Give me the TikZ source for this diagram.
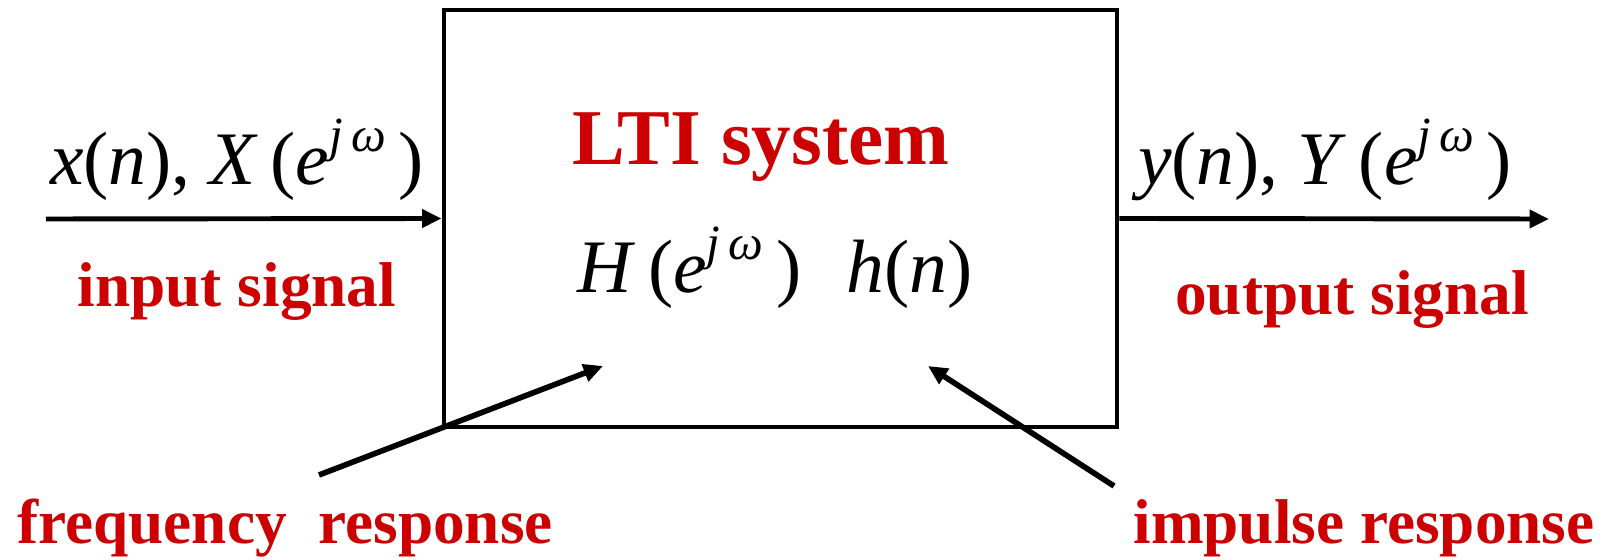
\documentclass[tikz,border=0pt]{standalone}
\usepackage{fontspec}
\setmainfont{Liberation Serif}
\usetikzlibrary{positioning, arrows.meta, calc}

\definecolor{ltired}{HTML}{CC0000}
% superscript for the exponent e^{j omega}
\newcommand{\expo}[1]{\raisebox{0.95ex}{\fontsize{28}{28}\selectfont\itshape #1}}

\begin{document}
\begin{tikzpicture}[
    sysbox/.style={draw, line width=2.8pt, minimum width=13.46cm, minimum height=8.34cm, inner sep=0pt},
    arrow/.style={-{Triangle[length=11pt, width=10pt]}, line width=2.8pt},
    slant/.style={-{Triangle[length=11pt, width=10pt]}, line width=3.2pt},
    redlbl/.style={text=ltired, font=\fontsize{36}{40}\selectfont\bfseries, inner sep=0pt},
    mathlbl/.style={font=\fontsize{43}{48}\selectfont, inner sep=0pt}
]
    \useasboundingbox (0,0) rectangle (32.06,11.2);

    % ================= SYSTEM BLOCK =================
    \node[sysbox] (Sys) at (15.61, 6.83) {};
    \node[redlbl, font=\fontsize{45}{50}\selectfont\bfseries] (LTI) at (15.22, 8.25) {LTI system};
    \node[mathlbl] (Resp) at (15.5, 5.85)
        {\textit{H}\,(\textit{e}\expo{j\,ω}\,)\hspace{0.6em}\textit{h}(\textit{n})};

    % ================= INPUT / OUTPUT =================
    \coordinate (In) at (0.92, 6.82);
    \coordinate (Out) at (30.98, 6.82);

    \node[mathlbl] (XLbl) at (4.74, 8.0)
        {\textit{x}(\textit{n}),\ \textit{X}\,(\textit{e}\expo{j\,ω}\,)};
    \node[redlbl] (InSig) at (4.74, 5.36) {input signal};

    \node[mathlbl] (YLbl) at (26.5, 8.0)
        {\textit{y}(\textit{n}), \textit{Y}\,(\textit{e}\expo{j\,ω}\,)};
    \node[redlbl] (OutSig) at (27.04, 5.2) {output signal};

    \draw[arrow] (In) -- (Sys.west);
    \draw[arrow] (Sys.east) -- (Out);

    % ================= RESPONSES =================
    \node[redlbl] (FreqResp) at (5.7, 0.64) {frequency\ \ response};
    \node[redlbl] (ImpResp) at (27.28, 0.64) {impulse response};

    \coordinate (FreqTail) at (6.38, 1.7);
    \coordinate (FreqHead) at (12.06, 3.88);
    \coordinate (ImpTail) at (22.28, 1.48);
    \coordinate (ImpHead) at (18.56, 3.88);

    \draw[slant] (FreqTail) -- (FreqHead);
    \draw[slant] (ImpTail) -- (ImpHead);

\end{tikzpicture}
\end{document}
